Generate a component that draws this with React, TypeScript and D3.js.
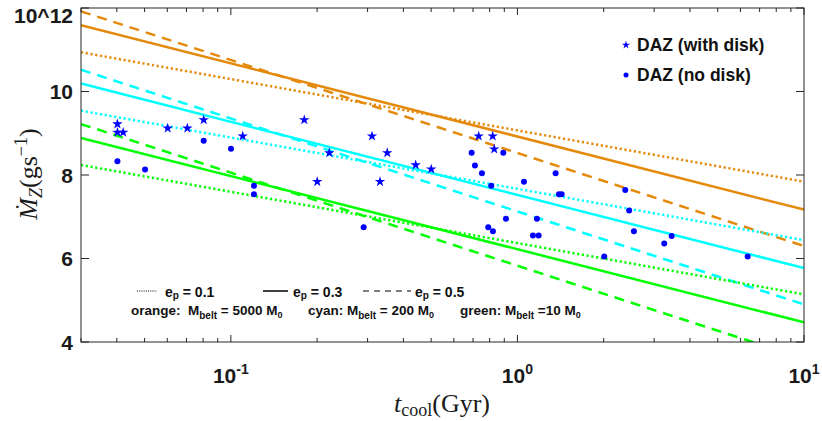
import React from "react";
import * as d3 from "d3";

// ---------- data ----------
const tRange = [0.03, 10];
const eccLabels = ["0.1", "0.3", "0.5"]; // dotted, solid, dashed
// log10(Mdot) at t = 0.03 and t = 10 Gyr, for e_p = 0.1, 0.3, 0.5
const orangeLines = [[10.94, 7.84], [11.59, 7.17], [11.92, 6.30]];
const cyanLines = [[9.54, 6.44], [10.19, 5.77], [10.52, 4.90]];
const greenLines = [[8.24, 5.14], [8.89, 4.47], [9.22, 3.60]];

const diskT = [0.0402, 0.0402, 0.0421, 0.0602, 0.0705, 0.0804, 0.110, 0.1804, 0.2206, 0.2002, 0.3109, 0.3513, 0.3315, 0.4415, 0.5003, 0.7325, 0.8197, 0.830];
const diskMdot = [9.22, 9.02, 9.02, 9.12, 9.12, 9.32, 8.93, 9.32, 8.53, 7.84, 8.93, 8.53, 7.84, 8.24, 8.14, 8.93, 8.93, 8.62];

const noDiskT = [0.0402, 0.0502, 0.0804, 0.1001, 0.1204, 0.1204, 0.2907, 0.6923, 0.8925, 0.7109, 0.7520, 1.359, 1.054, 0.8102, 1.396, 1.427, 0.912, 1.170, 0.7910, 0.8214, 1.133, 1.186, 2.378, 2.455, 2.550, 3.453, 3.253, 2.009, 6.36];
const noDiskMdot = [8.33, 8.13, 8.82, 8.63, 7.74, 7.54, 6.75, 8.53, 8.53, 8.23, 8.04, 8.04, 7.84, 7.74, 7.54, 7.54, 6.95, 6.95, 6.75, 6.65, 6.55, 6.55, 7.64, 7.15, 6.65, 6.54, 6.36, 6.05, 6.05];

const yTicks = [4, 6, 8, 10, 12];
const yTickLabels = ["4", "6", "8", "10", "10^12"];
const xMajor = [0.1, 1, 10];
const xMajorExp = ["-1", "0", "1"];
const beltNames = ["orange:\u00A0 M", "cyan: M", "green: M"];
const beltMass = [" = 5000 M", " = 200 M", " =10 M"];

// ---------- layout ----------
const W = 822, H = 421;
const L = 81, R = 804, T = 8, B = 342;
const ORANGE = "#E5890A", CYAN = "#00FFFF", GREEN = "#00FF00", BLUE = "#0000FF";
const AX = "#262626";
const SANS = "'Liberation Sans', Arial, Helvetica, sans-serif";
const SERIF = "'Liberation Serif', 'Times New Roman', serif";
const dashes = ["2.2,2.6", null, "10,7"];

export default function App() {
  const x = d3.scaleLog().domain([0.03, 10]).range([L, R]);
  const y = d3.scaleLinear().domain([4, 12]).range([B, T]);
  const line = d3.line<[number, number]>().x(d => x(d[0])).y(d => y(d[1]));

  const minorTicks: number[] = [];
  [0.01, 0.1, 1].forEach(dec => {
    for (let k = 2; k <= 9; k++) {
      const v = dec * k;
      if (v >= 0.03 && v <= 10 && Math.abs(v - 0.1) > 1e-9 && Math.abs(v - 1) > 1e-9) minorTicks.push(v);
    }
  });

  const star = d3.symbol().type(d3.symbolStar).size(34)()!;
  const starSmall = d3.symbol().type(d3.symbolStar).size(20)()!;

  const groups: [string, number[][]][] = [[ORANGE, orangeLines], [CYAN, cyanLines], [GREEN, greenLines]];
  const row1X = [[137, 157, 165], [263, 288, 293], [363, 411, 415]];
  const row2X = [131, 308, 460];

  return (
    <svg width={W} height={H} style={{ position: "fixed", left: 0, top: 0, background: "#fff" }}>
      <defs>
        <clipPath id="plotclip"><rect x={L} y={T} width={R - L} height={B - T} /></clipPath>
      </defs>
      <rect x={0} y={0} width={W} height={H} fill="#fff" />
      <g clipPath="url(#plotclip)">
        {groups.map(([col, arr], gi) =>
          arr.map((vals, i) => (
            <path key={gi + "-" + i}
              d={line([[tRange[0], vals[0]], [tRange[1], vals[1]]])!}
              stroke={col} strokeWidth={2.5} fill="none"
              strokeDasharray={dashes[i] ?? undefined} />
          ))
        )}
        {noDiskT.map((t, i) => (
          <circle key={"d" + i} cx={x(t)} cy={y(noDiskMdot[i])} r={3} fill={BLUE} />
        ))}
        {diskT.map((t, i) => (
          <path key={"s" + i} d={star} transform={`translate(${x(t)},${y(diskMdot[i])})`} fill={BLUE} />
        ))}
      </g>

      {/* axes box */}
      <rect x={L} y={T} width={R - L} height={B - T} fill="none" stroke={AX} strokeWidth={1} />
      {yTicks.map(v => (
        <g key={"yt" + v}>
          <line x1={L} x2={L + 8} y1={y(v)} y2={y(v)} stroke={AX} />
          <line x1={R} x2={R - 8} y1={y(v)} y2={y(v)} stroke={AX} />
        </g>
      ))}
      {xMajor.map(v => (
        <g key={"xt" + v}>
          <line x1={x(v)} x2={x(v)} y1={B} y2={B - 7} stroke={AX} />
          <line x1={x(v)} x2={x(v)} y1={T} y2={T + 7} stroke={AX} />
        </g>
      ))}
      {minorTicks.map(v => (
        <g key={"xm" + v}>
          <line x1={x(v)} x2={x(v)} y1={B} y2={B - 4} stroke={AX} />
          <line x1={x(v)} x2={x(v)} y1={T} y2={T + 4} stroke={AX} />
        </g>
      ))}

      {/* y tick labels */}
      {yTicks.map((v, i) => (
        <text key={"yl" + v} x={73} y={i === yTicks.length - 1 ? 23 : y(v) + 7.5}
          textAnchor="end" fontFamily={SANS} fontWeight="bold" fontSize={21} fill="#1a1a1a">
          {yTickLabels[i]}
        </text>
      ))}
      {/* x tick labels */}
      {xMajor.map((v, i) => (
        <text key={"xl" + v} x={x(v)} y={383} textAnchor="middle" fontFamily={SANS} fontWeight="bold" fontSize={21} fill="#1a1a1a">
          10<tspan fontSize={14} dy={-9}>{xMajorExp[i]}</tspan>
        </text>
      ))}

      {/* axis titles */}
      <text x={442} y={412} textAnchor="middle" fontFamily={SERIF} fontSize={26} fill="#1a1a1a">
        <tspan fontStyle="italic">t</tspan><tspan fontSize={18} dy={4}>cool</tspan><tspan dy={-4}>(Gyr)</tspan>
      </text>
      <text transform="translate(37,174) rotate(-90)" textAnchor="middle" fontFamily={SERIF} fontSize={26} fill="#1a1a1a">
        <tspan fontStyle="italic">{"\u1E40"}</tspan><tspan fontStyle="italic" fontSize={18} dy={5}>Z</tspan><tspan dy={-5}>(gs</tspan><tspan fontSize={18} dy={-10}>{"\u22121"}</tspan><tspan dy={10}>)</tspan>
      </text>

      {/* top-right legend */}
      <path d={starSmall} transform="translate(626,45)" fill={BLUE} />
      <text x={637} y={51} fontFamily={SANS} fontWeight="bold" fontSize={17.5} fill="#111">DAZ (with disk)</text>
      <circle cx={626} cy={75} r={2.5} fill={BLUE} />
      <text x={637} y={81} fontFamily={SANS} fontWeight="bold" fontSize={17.5} fill="#111">DAZ (no disk)</text>

      {/* bottom legend row 1 */}
      {row1X.map(([x1, x2, tx], i) => (
        <g key={"lg" + i}>
          <line x1={x1} x2={x2} y1={291} y2={291} stroke="#000" strokeWidth={i === 1 ? 1.5 : 1}
            strokeDasharray={i === 0 ? "1,1.2" : i === 2 ? "6,5" : undefined} />
          <text x={tx} y={297} fontFamily={SANS} fontWeight="bold" fontSize={14} fill="#111">
            e<tspan fontSize={10} dy={2}>p</tspan><tspan dy={-2}>{" = " + eccLabels[i]}</tspan>
          </text>
        </g>
      ))}
      {/* bottom legend row 2 */}
      {row2X.map((tx, i) => (
        <text key={"lm" + i} x={tx} y={315} fontFamily={SANS} fontWeight="bold" fontSize={13.5} fill="#111">
          {beltNames[i]}<tspan fontSize={10} dy={4}>belt</tspan><tspan dy={-4}>{beltMass[i]}</tspan><tspan fontSize={9} dy={3}>0</tspan>
        </text>
      ))}
    </svg>
  );
}
